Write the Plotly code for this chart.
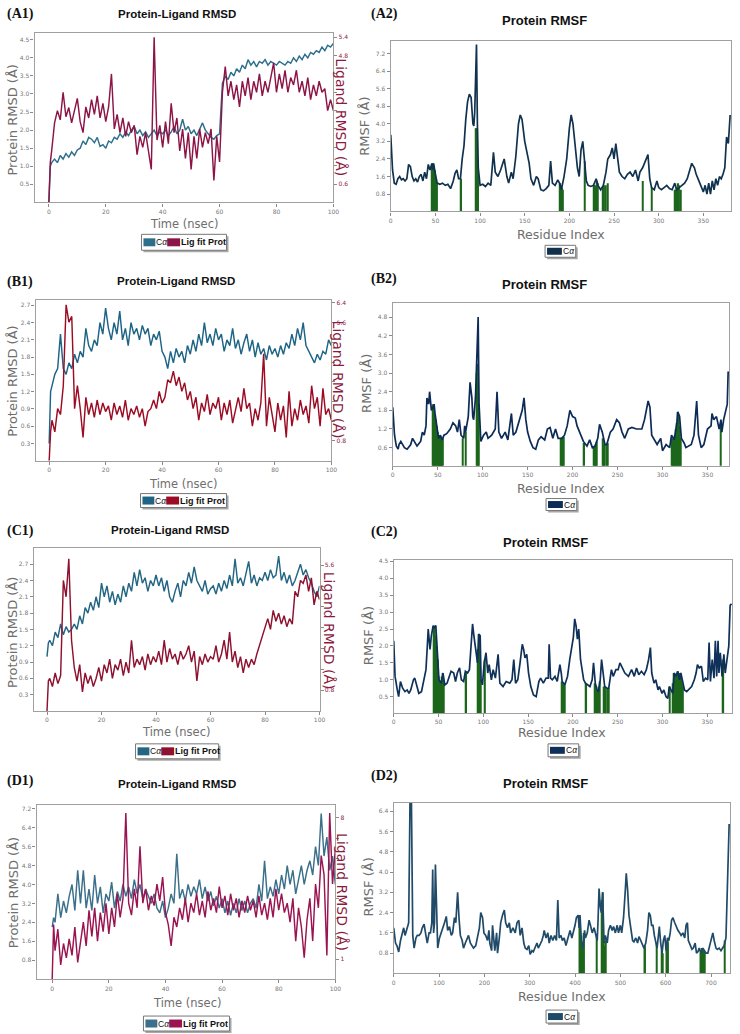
import plotly.graph_objects as go

W, H = 740, 1034
def X(px): return px / W
def Y(py): return 1 - py / H

# ---------------- data ----------------
TIME = [0, 0.5] + list(range(1, 101))   # ns sampling grid

A1_CA = [0.0, 1.0,
 1.1, 1.2, 1.1, 1.3, 1.2, 1.35, 1.25, 1.4, 1.3, 1.45,
 1.5, 1.7, 1.6, 1.8, 1.75, 1.65, 1.8, 1.55, 1.6, 1.5,
 1.7, 1.65, 1.8, 1.75, 1.9, 1.8, 1.95, 1.85, 2.0, 2.1,
 1.9, 2.0, 1.85, 1.95, 1.8, 1.9, 2.0, 1.85, 1.95, 1.9,
 2.0, 1.85, 1.95, 2.1, 1.9, 2.0, 2.3, 2.0, 2.1, 1.9,
 2.0, 1.85, 2.05, 2.2, 2.0, 1.9, 1.8, 1.75, 1.85, 1.9,
 3.3, 3.5, 3.4, 3.6, 3.5, 3.7, 3.6, 3.8, 3.7, 3.95,
 3.8, 3.9, 3.75, 3.9, 3.85, 3.95, 3.8, 3.9, 3.85, 3.8,
 3.9, 3.85, 3.8, 3.9, 3.85, 4.0, 3.9, 4.05, 3.95, 4.1,
 4.0, 4.15, 4.1, 4.2, 4.15, 4.3, 4.2, 4.35, 4.3, 4.4]
A1_LIG = [0.0, 1.3,
 1.7, 2.6, 3.0, 2.7, 3.6, 2.8, 3.1, 2.6, 3.0, 3.4,
 2.64, 2.28, 3.12, 2.76, 3.36, 2.88, 3.48, 2.76, 3.24, 2.64,
 3.12, 4.2, 2.4, 2.88, 2.28, 2.76, 2.16, 2.64, 2.28, 2.52,
 1.56, 2.16, 1.8, 2.28, 1.68, 1.08, 5.4, 2.04, 2.52, 1.8,
 2.64, 1.92, 3.24, 2.28, 2.76, 1.68, 2.4, 1.44, 2.28, 1.08,
 2.16, 1.44, 2.4, 1.8, 2.28, 1.92, 2.4, 0.72, 2.16, 1.32,
 3.6, 4.44, 3.48, 3.96, 3.36, 3.84, 3.12, 3.96, 3.48, 4.08,
 3.36, 3.96, 3.6, 4.2, 3.48, 3.96, 3.6, 4.08, 4.56, 3.6,
 4.2, 3.72, 4.32, 3.6, 4.08, 3.84, 4.32, 3.6, 3.96, 3.48,
 4.08, 3.36, 3.84, 3.48, 3.96, 3.6, 3.72, 3.0, 3.36, 3.0]

B1_CA = [0.3, 1.2,
 1.3, 1.5, 1.6, 2.2, 1.6, 1.5, 1.7, 1.6, 1.85, 1.7,
 1.9, 1.8, 2.3, 2.0, 1.9, 2.1, 2.0, 2.4, 2.2, 2.65,
 2.3, 2.1, 2.4, 2.2, 2.6, 2.1, 2.3, 2.0, 2.4, 2.2,
 2.3, 2.1, 2.35, 2.2, 2.3, 2.0, 2.2, 2.1, 2.25, 1.9,
 1.8, 1.6, 1.9, 1.7, 1.95, 1.8, 1.9, 1.7, 2.0, 1.85,
 2.1, 1.9, 2.2, 2.0, 2.4, 2.05, 2.2, 2.0, 2.3, 2.1,
 2.2, 1.9, 2.1, 2.0, 2.3, 1.95, 2.1, 1.85, 2.05, 2.2,
 1.9, 2.1, 1.8, 2.05, 1.85, 1.95, 1.75, 2.0, 1.85, 1.95,
 1.8, 2.0, 1.85, 2.05, 1.95, 2.2, 2.0, 2.3, 2.1, 2.4,
 2.0, 1.9, 1.8, 1.7, 1.85, 1.75, 1.9, 1.85, 2.1, 2.0]
B1_LIG = [0.0, 1.17,
 1.64, 1.17, 2.11, 1.87, 3.04, 6.32, 5.62, 5.85, 2.11, 3.04,
 2.11, 0.94, 2.57, 1.87, 2.34, 1.76, 2.46, 1.87, 2.34, 1.99,
 2.22, 1.64, 2.34, 1.87, 2.22, 1.76, 2.46, 1.64, 2.11, 1.87,
 2.22, 1.76, 2.11, 1.40, 1.99, 2.11, 2.46, 2.11, 2.81, 2.34,
 2.57, 3.28, 3.16, 3.63, 3.04, 3.39, 2.81, 3.16, 2.46, 2.81,
 2.11, 2.57, 1.64, 2.34, 1.99, 2.69, 1.87, 2.34, 2.11, 2.57,
 1.64, 2.34, 1.87, 2.46, 1.52, 2.11, 2.57, 1.99, 2.93, 2.11,
 2.34, 1.40, 2.11, 1.64, 2.34, 4.33, 1.40, 2.57, 1.87, 1.17,
 2.34, 1.64, 2.22, 0.94, 2.81, 1.40, 2.11, 1.64, 2.46, 1.87,
 2.22, 1.52, 3.04, 2.11, 2.57, 1.40, 2.93, 1.87, 2.11, 1.64]

C1_CA = [1.0, 1.25,
 1.3, 1.2, 1.45, 1.35, 1.6, 1.4, 1.55, 1.45, 1.5, 1.6,
 1.5, 1.75, 1.6, 1.9, 1.8, 2.0, 1.85, 2.1, 1.9, 2.35,
 2.1, 2.3, 2.0, 2.2, 1.95, 2.15, 2.0, 2.3, 2.1, 2.35,
 2.2, 2.55, 2.3, 2.6, 2.35, 2.45, 2.2, 2.4, 2.3, 2.5,
 2.3, 2.45, 2.2, 2.4, 2.1, 2.0, 2.2, 2.35, 2.1, 2.4,
 2.3, 2.55, 2.35, 2.65, 2.4, 2.3, 2.2, 2.4, 2.15, 2.25,
 2.3, 2.15, 2.35, 2.2, 2.4, 2.25, 2.5, 2.3, 2.8, 2.35,
 2.45, 2.3, 2.5, 2.75, 2.35, 2.5, 2.3, 2.45, 2.4, 2.55,
 2.4, 2.6, 2.45, 2.5, 2.85, 2.4, 2.55, 2.35, 2.5, 2.3,
 2.4, 2.55, 2.7, 2.5, 2.6, 2.45, 2.35, 2.2, 2.1, 2.3]
C1_LIG = [0.0, 1.15,
 1.25, 0.94, 1.46, 1.05, 1.36, 5.02, 4.39, 5.85, 2.72, 1.67,
 1.15, 1.78, 0.73, 1.46, 1.05, 1.36, 0.94, 1.25, 1.67, 1.15,
 1.78, 1.46, 1.99, 1.25, 1.78, 1.57, 1.99, 1.36, 1.88, 1.46,
 2.72, 1.67, 1.99, 1.78, 2.09, 1.57, 2.19, 1.78, 2.09, 1.88,
 2.30, 1.78, 2.72, 1.88, 2.40, 1.99, 2.19, 1.78, 2.30, 1.99,
 2.19, 2.51, 1.88, 2.30, 1.15, 2.09, 1.78, 2.19, 1.88, 2.09,
 1.99, 2.51, 1.88, 2.19, 2.72, 1.99, 3.03, 1.88, 2.30, 1.67,
 2.09, 1.46, 1.99, 1.67, 1.99, 1.78, 2.19, 2.51, 2.82, 3.14,
 3.55, 3.14, 3.87, 3.45, 3.76, 3.34, 3.66, 3.24, 3.55, 3.34,
 4.60, 4.39, 5.02, 4.91, 5.23, 4.60, 5.12, 4.08, 4.60, 4.28]

D1_CA = [2.2, 2.6,
 2.4, 3.6, 2.6, 3.3, 2.8, 3.5, 4.0, 2.9, 4.6, 3.2,
 4.6, 3.0, 3.8, 2.9, 4.4, 3.2, 3.9, 2.8, 3.6, 3.3,
 4.1, 3.0, 3.7, 3.3, 4.0, 3.5, 3.9, 3.4, 4.2, 3.6,
 4.0, 3.4, 3.8, 3.5, 3.2, 3.6, 3.0, 2.8, 3.3, 2.6,
 3.0, 3.6, 3.2, 5.3, 3.4, 3.8, 3.3, 4.0, 3.5, 3.9,
 3.6, 4.2, 3.4, 3.9, 3.3, 3.7, 3.1, 3.5, 3.0, 3.4,
 2.8, 3.3, 2.7, 3.2, 2.8, 3.4, 2.9, 3.3, 2.8, 3.2,
 3.4, 3.0, 4.0, 3.3, 5.0, 3.4, 3.9, 3.5, 4.2, 3.6,
 4.4, 3.8, 4.8, 4.0, 4.6, 3.6, 4.2, 4.8, 4.0, 4.6,
 5.0, 4.4, 5.6, 4.8, 7.0, 5.2, 6.0, 4.6, 5.2, 4.0]
D1_LIG = [0.0, 2.71,
 1.41, 2.48, 0.71, 1.77, 1.06, 2.0, 1.18, 2.59, 0.83, 1.89,
 2.83, 1.65, 3.42, 2.12, 3.54, 1.89, 3.30, 2.36, 3.77, 2.24,
 3.54, 2.59, 4.24, 3.07, 4.01, 8.25, 3.77, 3.18, 4.48, 3.54,
 6.60, 3.77, 4.48, 3.42, 4.13, 3.65, 4.72, 3.89, 5.07, 3.30,
 2.71, 1.65, 3.07, 2.59, 3.54, 2.95, 4.01, 2.83, 3.77, 3.30,
 4.24, 3.18, 3.89, 3.07, 4.36, 3.42, 4.01, 3.30, 4.60, 3.54,
 4.13, 3.18, 4.24, 3.42, 4.01, 3.07, 3.89, 3.30, 4.13, 3.42,
 3.89, 3.07, 4.13, 3.18, 3.77, 2.95, 4.01, 3.07, 4.48, 3.42,
 4.24, 3.30, 3.77, 2.83, 4.01, 1.89, 3.54, 2.59, 1.06, 2.95,
 4.01, 1.89, 4.72, 3.54, 6.13, 5.19, 1.18, 8.25, 4.72, 6.48]

# RMSF profiles: (residue index, RMSF in Å)
A2_RMSF = [(0,3.5),(2,1.9),(4,1.3),(6,1.25),(8,1.5),(10,1.6),(12,1.45),(14,1.5),(16,1.4),(18,1.5),
 (20,2.15),(22,2.05),(24,1.6),(26,1.4),(28,1.5),(30,1.35),(32,1.6),(34,1.7),(36,1.4),(38,1.8),
 (40,1.5),(42,2.15),(44,1.9),(46,2.2),(47,1.9),(48,2.2),(50,1.7),(52,1.3),(55,1.25),(58,1.3),
 (61,1.2),(64,1.25),(67,1.05),(70,1.4),(72,1.75),(74,1.9),(76,1.5),(78,1.5),(80,2.4),(82,3.0),
 (84,4.2),(86,5.0),(88,5.35),(90,5.2),(92,4.0),(93,3.9),(94,4.5),(95,6.4),(96,7.6),(97,4.0),
 (98,2.0),(100,1.2),(103,1.25),(106,1.15),(109,1.3),(112,1.2),(115,2.7),(117,1.8),(120,1.6),(123,1.9),
 (125,2.2),(127,2.4),(130,1.6),(132,1.3),(135,1.8),(137,1.5),(140,2.5),(143,4.0),(145,4.4),(147,4.2),
 (150,3.2),(153,2.6),(155,2.2),(157,1.5),(160,1.2),(163,1.6),(165,1.5),(168,1.0),(171,0.95),(174,1.05),
 (177,1.2),(179,2.3),(181,1.3),(184,1.2),(187,1.45),(189,1.3),(191,1.0),(194,1.6),(197,2.4),(200,3.8),
 (202,4.4),(204,4.0),(207,2.8),(209,2.0),(211,1.6),(213,2.8),(215,3.2),(217,2.4),(219,1.4),(221,1.2),
 (224,1.15),(227,1.2),(230,1.5),(232,1.2),(235,1.0),(238,1.2),(241,1.8),(243,2.4),(246,2.6),(248,2.9),
 (250,2.4),(252,3.1),(254,2.4),(256,1.8),(259,1.6),(262,1.5),(265,1.7),(268,1.8),(271,1.6),(274,1.9),
 (277,1.4),(279,1.8),(282,2.0),(285,2.3),(288,2.6),(290,1.5),(292,1.1),(295,1.0),(298,1.4),(300,1.1),
 (303,1.0),(306,1.1),(309,1.2),(312,1.05),(315,1.0),(318,1.3),(320,1.0),(323,1.1),(326,1.2),(329,1.3),
 (332,1.5),(335,1.9),(337,2.2),(340,2.0),(342,1.7),(345,1.4),(348,1.1),(350,0.9),(352,1.2),(354,0.8),
 (356,1.3),(358,0.8),(360,1.4),(362,1.0),(364,1.5),(366,1.2),(368,1.6),(370,1.5),(372,1.7),(374,2.0),
 (376,3.4),(378,3.1),(380,4.4)]
A2_CONTACTS = [(46,2.0),(47,2.2),(48,2.1),(49,1.9),(50,1.7),(51,1.5),(52,1.3),(79,1.5),(95,3.8),(96,3.8),
 (97,3.8),(98,2.0),(190,1.3),(191,1.2),(192,1.1),(193,1.0),(217,2.3),(228,1.2),(229,1.2),(231,1.4),
 (232,1.3),(238,1.1),(239,1.2),(241,1.2),(243,1.3),(282,1.4),(292,1.1),(318,1.0),(319,1.0),(320,1.1),
 (322,1.3),(323,1.2),(325,1.0)]

B2_RMSF = [(0,1.9),(2,1.0),(4,0.65),(6,0.55),(7,0.7),(9,0.8),(13,0.6),(16,0.55),(20,0.7),(22,0.9),
 (24,0.8),(27,0.65),(31,0.8),(33,1.1),(35,1.0),(37,1.3),(38,2.2),(40,2.0),(41,2.4),(42,2.1),
 (43,1.8),(45,1.9),(46,2.0),(47,1.7),(49,1.3),(51,0.9),(53,1.0),(55,0.85),(57,1.0),(60,1.05),
 (64,1.2),(67,1.4),(70,1.3),(72,1.1),(74,1.5),(76,1.0),(79,0.9),(80,1.3),(81,1.1),(84,1.6),
 (86,2.7),(88,2.2),(89,1.6),(90,1.5),(92,2.2),(93,3.0),(95,4.8),(96,2.0),(98,0.8),(101,1.0),
 (104,1.1),(106,0.9),(110,1.0),(114,1.2),(116,2.4),(118,1.1),(121,0.9),(125,1.1),(128,0.85),(132,1.7),
 (134,1.0),(137,1.1),(141,1.5),(144,1.8),(146,2.2),(148,1.5),(150,1.1),(153,0.8),(156,0.6),(159,0.55),
 (162,0.85),(165,0.95),(169,0.85),(172,1.2),(175,1.25),(178,0.9),(181,1.2),(184,0.9),(188,0.9),(191,1.0),
 (194,1.3),(197,1.8),(200,1.6),(203,1.55),(205,1.3),(209,1.0),(212,0.8),(216,0.65),(219,0.85),(222,0.6),
 (225,0.65),(228,0.9),(230,1.35),(233,1.1),(236,0.7),(238,0.7),(242,1.1),(245,1.2),(249,1.5),(252,1.4),
 (255,1.1),(258,0.9),(262,1.2),(266,1.25),(271,1.2),(277,1.2),(280,1.5),(284,2.1),(286,1.9),(288,1.0),
 (291,0.85),(294,0.7),(298,0.9),(300,0.5),(304,0.7),(308,0.6),(310,1.0),(313,0.85),(316,1.4),(317,1.75),
 (319,1.6),(321,0.9),(324,0.75),(326,0.6),(332,0.7),(335,1.0),(338,2.1),(340,1.0),(343,0.6),(346,0.7),
 (350,1.2),(354,1.3),(355,1.7),(357,1.5),(360,1.6),(363,1.2),(365,1.5),(366,1.1),(368,1.5),(370,1.8),
 (372,2.0),(373,3.05)]
B2_CONTACTS = [(45,2.0),(46,1.9),(47,1.7),(48,1.5),(49,1.3),(50,1.1),(51,0.95),(52,0.95),(53,1.0),(54,0.9),
 (55,0.85),(56,0.9),(78,0.9),(81,1.1),(94,3.0),(95,3.3),(96,2.0),(187,0.9),(188,0.9),(189,0.95),
 (190,0.95),(213,0.75),(224,0.6),(225,0.65),(226,0.7),(227,0.8),(234,0.9),(235,0.7),(236,0.7),(238,0.7),
 (239,0.75),(311,0.9),(312,0.85),(313,0.85),(314,1.0),(315,1.2),(316,1.4),(317,1.75),(318,1.6),(319,1.3),
 (320,0.9),(365,1.3)]

C2_RMSF = [(0,2.15),(1.5,1.1),(4,0.7),(5.5,0.5),(7.5,0.95),(10,0.75),(12.5,0.65),(15,0.7),(17,0.6),(19,0.7),
 (22,1.0),(23.5,1.05),(26,0.8),(28,0.6),(31,0.65),(33,0.9),(36,1.3),(37.5,2.0),(38.5,2.5),(40.5,1.9),
 (42,2.3),(44,2.6),(45,2.55),(47,2.6),(48.5,1.9),(50.5,1.0),(53,0.9),(55,1.2),(57,0.85),(59.5,0.9),
 (62,1.1),(64,1.25),(67,1.2),(69,0.95),(71,1.2),(73.5,1.35),(75.5,1.0),(78,0.95),(80,1.25),(82.5,1.2),
 (84.5,1.3),(86.5,2.2),(88,2.65),(89.5,2.3),(91.5,1.9),(93.5,1.5),(95,2.35),(96.5,2.3),(97.5,1.0),(99,0.85),
 (101,1.5),(103,1.8),(105,1.2),(106.5,1.45),(109,1.0),(111,1.3),(113.5,1.05),(116.5,1.75),(118.5,0.9),(122,0.8),
 (125.5,0.95),(129.5,0.9),(132,1.0),(134,1.6),(136,0.9),(138.5,1.0),(141,1.5),(143.5,2.05),(145,1.9),(146.5,1.65),
 (148.5,1.75),(150.5,1.2),(153,0.8),(156,0.55),(159,0.5),(162,0.95),(164,1.05),(167,0.9),(170,1.05),(172.5,1.05),
 (173.5,2.05),(175,1.05),(177,1.0),(180,1.1),(182.5,0.95),(185.5,1.45),(187,1.2),(188,0.95),(191,0.85),(194,1.1),
 (196.5,1.6),(198.5,2.0),(200.5,2.25),(202,2.8),(203.5,2.6),(205,2.2),(206.5,2.5),(208.5,1.6),(210.5,1.15),(212,1.0),
 (214,0.9),(216.5,0.85),(219,0.8),(221.5,1.0),(223,1.5),(225,0.9),(227,0.7),(228.5,0.65),(230.5,1.0),(232,1.6),
 (233.5,1.2),(235.5,0.8),(238,0.75),(240,0.75),(243,1.3),(245,1.1),(248,1.3),(250.5,1.3),(252.5,1.5),(255,1.35),
 (258,1.2),(262,1.1),(265.5,1.3),(268.5,1.1),(271,1.35),(273.5,1.15),(276.5,1.25),(279.5,1.15),(282,1.3),(284.5,1.6),
 (286.5,1.95),(288,1.2),(290.5,0.9),(292.5,1.0),(295,0.7),(296.5,0.8),(299.5,0.6),(301.5,0.7),(304,0.5),(306,0.45),
 (307.5,0.8),(309.5,0.7),(311.5,0.6),(313,1.2),(315,1.1),(317,1.25),(319,1.0),(320.5,1.2),(322.5,0.9),(324.5,0.7),
 (327,0.65),(330,0.75),(332.5,0.8),(335.5,1.0),(337.5,1.2),(339,1.45),(341,1.35),(343.5,1.4),(345.5,0.95),(348,1.05),
 (350.5,1.0),(352,2.1),(353.5,0.95),(355.5,1.6),(357.5,1.05),(359,2.15),(360.5,1.1),(362,2.15),(363,1.2),(364.5,1.8),
 (366.5,1.1),(368.5,1.75),(370,1.2),(372,1.6),(374,2.0),(375.5,3.2),(377,3.25)]
C2_CONTACTS = [(45,2.55),(46,2.6),(47,2.3),(48,2.0),(49,1.6),(50,1.1),(51,1.0),(52,0.95),(53,0.9),(54,1.1),
 (55,1.2),(56,1.0),(81,1.2),(94,1.9),(95,2.35),(96,2.3),(97,1.0),(102,1.6),(188,0.95),(189,0.9),
 (190,0.85),(191,0.85),(215,0.9),(225,0.9),(226,0.8),(227,0.7),(228,0.65),(229,0.8),(230,0.95),(235,0.8),
 (236,0.75),(237,0.75),(239,0.75),(240,0.75),(308,0.8),(312,0.9),(313,1.2),(314,1.15),(315,1.1),(316,1.2),
 (317,1.25),(318,1.1),(319,1.0),(320,1.2),(321,1.05),(322,0.9),(323,0.8),(368,1.6)]

D2_RMSF = [(0,1.8),(4,1.2),(7,1.1),(11,0.85),(15,1.3),(18,1.5),(22,1.8),(25,1.5),(29,1.8),(33,2.0),
 (36,6.9),(39,6.9),(42,1.5),(45,1.0),(49,1.4),(52,1.5),(56,1.5),(60,1.6),(63,1.8),(67,1.95),
 (71,1.5),(74,1.2),(78,1.6),(81,1.6),(84,2.0),(86,4.1),(88,1.6),(90,2.0),(92,4.3),(95,2.2),
 (97,1.0),(101,1.4),(105,1.6),(109,1.8),(112,2.0),(116,2.25),(119,1.7),(123,1.85),(127,1.5),(130,1.6),
 (134,2.2),(137,2.0),(141,3.2),(144,2.2),(147,1.5),(151,1.3),(154,1.0),(158,1.2),(161,1.35),(165,1.5),
 (169,1.2),(172,1.1),(176,1.0),(181,1.1),(185,1.5),(189,1.8),(192,2.4),(196,2.2),(199,1.6),(203,1.5),
 (207,1.3),(210,1.7),(212,1.2),(216,0.9),(218,1.9),(221,1.2),(223,0.9),(227,1.6),(229,0.8),(233,1.4),
 (236,2.0),(240,2.3),(244,2.5),(247,2.0),(251,1.8),(255,2.0),(258,1.6),(263,1.8),(268,1.6),(272,2.0),
 (276,2.1),(279,1.5),(283,1.8),(287,1.2),(290,1.0),(294,0.95),(298,1.1),(301,0.75),(305,0.9),(308,0.85),
 (312,1.0),(316,1.2),(319,1.0),(323,1.15),(327,1.3),(330,1.5),(332,1.7),(336,1.4),(340,1.6),(343,1.2),
 (347,1.5),(351,1.3),(355,1.5),(359,1.3),(362,2.9),(365,1.4),(369,1.5),(372,1.3),(376,1.4),(380,1.1),
 (384,1.4),(389,1.7),(393,1.4),(396,1.6),(400,1.9),(403,2.2),(407,2.3),(409,1.8),(411,2.3),(414,1.3),
 (418,1.0),(421,1.7),(423,1.4),(427,1.6),(431,2.1),(434,1.9),(438,1.6),(442,1.8),(445,1.6),(449,1.3),
 (451,2.2),(453,3.35),(456,2.6),(458,2.4),(461,3.2),(464,1.2),(467,1.5),(471,1.2),(474,1.7),(478,1.9),
 (482,1.7),(485,1.85),(489,1.6),(493,1.9),(496,1.6),(500,1.9),(503,1.6),(507,2.2),(511,3.3),(513,3.95),
 (516,3.3),(519,2.3),(523,1.8),(527,1.3),(530,1.25),(534,1.4),(538,1.2),(541,1.45),(545,1.3),(549,1.1),
 (552,1.0),(556,1.2),(560,1.7),(563,2.4),(566,2.3),(569,1.9),(572,1.9),(575,1.5),(578,1.3),(581,1.0),
 (584,1.5),(586,1.85),(589,1.2),(592,0.8),(595,1.3),(598,1.5),(601,0.9),(604,1.4),(607,1.3),(610,1.6),
 (613,2.1),(616,2.2),(620,2.0),(624,1.8),(627,1.7),(631,1.6),(634,1.5),(638,1.6),(642,1.4),(645,1.9),
 (648,2.0),(650,1.3),(654,1.1),(658,0.95),(661,1.0),(665,1.2),(668,0.8),(671,0.85),(674,1.0),(678,0.8),
 (682,1.0),(685,0.9),(689,0.8),(693,0.8),(696,1.0),(700,1.3),(704,1.6),(707,1.3),(711,1.0),(714,0.95),
 (718,1.0),(722,0.9),(725,1.0),(729,1.1),(733,1.4),(736,3.0),(740,5.9)]
D2_CONTACTS = [(410,1.8),(411,2.0),(412,1.5),(413,1.3),(414,1.2),(415,1.1),(416,1.0),(417,1.0),(418,1.2),(419,1.5),
 (420,1.6),(447,1.5),(460,2.9),(461,3.2),(463,1.4),(466,1.1),(468,1.3),(554,1.0),(555,1.1),(581,1.2),
 (591,0.9),(593,0.8),(602,1.0),(603,1.1),(604,1.2),(605,1.3),(677,0.9),(678,0.8),(679,0.9),(680,1.0),
 (681,0.95),(682,0.9),(683,0.85),(685,0.9),(687,0.85),(731,1.3)]

# tick labels
TIME_TICKS = [0, 20, 40, 60, 80, 100]
RES_TICKS = [0, 50, 100, 150, 200, 250, 300, 350]
RES_TICKS_D = [0, 100, 200, 300, 400, 500, 600, 700]
A1_LT = ["0.5", "1.0", "1.5", "2.0", "2.5", "3.0", "3.5", "4.0", "4.5"]
A1_RT = ["0.6", "1.2", "1.8", "2.4", "3.0", "3.6", "4.2", "4.8", "5.4"]
A1_RSHOW = ["0.6", "4.8", "5.4"]
B1_LT = ["0.3", "0.6", "0.9", "1.2", "1.5", "1.8", "2.1", "2.4", "2.7"]
B1_RT = ["0.8", "1.6", "2.4", "3.2", "4.0", "4.8", "5.6", "6.4"]
B1_RSHOW = ["0.8", "5.6", "6.4"]
C1_LT = ["0.3", "0.6", "0.9", "1.2", "1.5", "1.8", "2.1", "2.4", "2.7"]
C1_RT = ["0.8", "1.6", "2.4", "3.2", "4.0", "4.8", "5.6"]
C1_RSHOW = ["0.8", "5.6"]
D1_LT = ["0.8", "1.6", "2.4", "3.2", "4.0", "4.8", "5.6", "6.4", "7.2"]
D1_RT = ["1", "2", "3", "4", "5", "6", "7", "8"]
D1_RSHOW = ["1", "8"]
A2_T = ["0.8", "1.6", "2.4", "3.2", "4.0", "4.8", "5.6", "6.4", "7.2"]
B2_T = ["0.6", "1.2", "1.8", "2.4", "3.0", "3.6", "4.2", "4.8"]
C2_T = ["0.5", "1.0", "1.5", "2.0", "2.5", "3.0", "3.5", "4.0", "4.5"]
D2_T = ["0.8", "1.6", "2.4", "3.2", "4.0", "4.8", "5.6", "6.4"]

for s in (A1_CA, A1_LIG, B1_CA, B1_LIG, C1_CA, C1_LIG, D1_CA, D1_LIG):
    assert len(s) == len(TIME), len(s)

# ---------------- styling ----------------
GREEN = "#1c661c"
LIGC = "#8b1a3e"
GRAYT = "#6e6e6e"
TICKF = dict(family="DejaVu Sans", size=6, color="#777777")
AX = dict(showgrid=False, zeroline=False, showline=True, mirror=True,
          linecolor="#a0a0a0", linewidth=1.3, ticks="outside", ticklen=3,
          tickwidth=1, tickcolor="#8a8a8a", tickfont=TICKF)

fig = go.Figure()
layout = {}
annotations = []
shapes = []

def ax_name(kind, n):
    return f"{kind}axis" if n == 1 else f"{kind}axis{n}"

def ref(kind, n):
    return kind if n == 1 else f"{kind}{n}"

def ann(text, px, py, size, color="#111", family="DejaVu Sans", angle=0, xanchor="center"):
    annotations.append(dict(text=text, x=X(px), y=Y(py), xref="paper", yref="paper",
                            showarrow=False, textangle=angle, xanchor=xanchor, yanchor="middle",
                            borderpad=0, font=dict(size=size, color=color, family=family)))

def rect(x0, y0, x1, y1, fill, line=None, lw=0):
    shapes.append(dict(type="rect", xref="paper", yref="paper", x0=X(x0), x1=X(x1),
                       y0=Y(y1), y1=Y(y0), fillcolor=fill,
                       line=dict(color=line or fill, width=lw), layer="below"))

def legend_box(x0, y0, x1, y1):
    rect(x0 + 2, y0 + 2, x1 + 2, y1 + 2, "#a8a8a8")
    rect(x0, y0, x1, y1, "white", "#777777", 1)

def rmsd_legend(x0, y0, x1, y1, teal, crim):
    legend_box(x0, y0, x1, y1)
    ym = (y0 + y1) / 2
    rect(x0 + 2, ym - 4, x0 + 14, ym + 4, teal)
    ann("C<i>α</i>", x0 + 14, ym, 8.5, family="Liberation Sans", xanchor="left")
    rect(x0 + 26, ym - 4, x0 + 39, ym + 4, crim)
    ann("<b>Lig fit Prot</b>", x0 + 38.5, ym, 9, family="Liberation Sans", xanchor="left")

def rmsf_legend(x0, y0, x1, y1, navy):
    legend_box(x0, y0, x1, y1)
    ym = (y0 + y1) / 2
    rect(x0 + 2, ym - 3.5, x0 + 17, ym + 3.5, navy)
    ann("C<i>α</i>", x0 + 17, ym, 8.5, family="Liberation Sans", xanchor="left")

def rmsd_panel(n, sec, box, xr, yl, yr, ca, lig, lt, rt, rshow, teal, crim):
    x0, y0, x1, y1 = box
    fig.add_trace(go.Scatter(x=TIME, y=ca, mode="lines", line=dict(color=teal, width=1.45),
                             xaxis=ref("x", n), yaxis=ref("y", n), hoverinfo="skip"))
    fig.add_trace(go.Scatter(x=TIME, y=lig, mode="lines", line=dict(color=crim, width=1.45),
                             xaxis=ref("x", n), yaxis=ref("y", sec), hoverinfo="skip"))
    layout[ax_name("x", n)] = dict(AX, domain=[X(x0), X(x1)], range=xr, anchor=ref("y", n),
                                   tickvals=TIME_TICKS, ticktext=[str(v) for v in TIME_TICKS])
    layout[ax_name("y", n)] = dict(AX, domain=[Y(y1), Y(y0)], range=yl, anchor=ref("x", n),
                                   tickvals=[float(v) for v in lt], ticktext=lt)
    layout[ax_name("y", sec)] = dict(AX, overlaying=ref("y", n), side="right", anchor=ref("x", n),
                                     range=yr, showline=False, mirror=False,
                                     tickvals=[float(v) for v in rt],
                                     ticktext=[v if v in rshow else "" for v in rt],
                                     tickfont=dict(family="DejaVu Sans", size=6, color=LIGC))

def rmsf_panel(n, box, xr, yr, prof, contacts, ticks, xticks, navy, bw):
    x0, y0, x1, y1 = box
    fig.add_trace(go.Bar(x=[c[0] for c in contacts], y=[c[1] for c in contacts], width=bw,
                         marker=dict(color=GREEN, line=dict(width=0)),
                         xaxis=ref("x", n), yaxis=ref("y", n), hoverinfo="skip"))
    fig.add_trace(go.Scatter(x=[p[0] for p in prof], y=[p[1] for p in prof], mode="lines",
                             line=dict(color=navy, width=1.7),
                             xaxis=ref("x", n), yaxis=ref("y", n), hoverinfo="skip"))
    layout[ax_name("x", n)] = dict(AX, domain=[X(x0), X(x1)], range=xr, anchor=ref("y", n),
                                   tickvals=xticks, ticktext=[str(v) for v in xticks])
    layout[ax_name("y", n)] = dict(AX, domain=[Y(y1), Y(y0)], range=yr, anchor=ref("x", n),
                                   tickvals=[float(v) for v in ticks], ticktext=ticks)

# ---------------- panels ----------------
rmsd_panel(1, 9, (33, 30, 335, 200), [-5, 100], [0, 4.69], [0, 5.54], A1_CA, A1_LIG,
           A1_LT, A1_RT, A1_RSHOW, "#2d6e8c", "#8d1446")
rmsf_panel(2, (393, 38, 737, 209), [0, 381], [0.015, 7.77], A2_RMSF, A2_CONTACTS, A2_T,
           RES_TICKS, "#10324f", 1.6)
rmsd_panel(3, 10, (34, 298, 333, 459), [-4.8, 100], [0, 2.79], [0, 6.51], B1_CA, B1_LIG,
           B1_LT, B1_RT, B1_RSHOW, "#1d6486", "#9b0c24")
rmsf_panel(4, (395, 301, 735, 464), [0, 374], [0.02, 5.25], B2_RMSF, B2_CONTACTS, B2_T,
           RES_TICKS, "#0c2b56", 1.6)
rmsd_panel(5, 11, (32, 547, 321, 710), [-4.9, 100], [0, 2.99], [0, 6.25], C1_CA, C1_LIG,
           C1_LT, C1_RT, C1_RSHOW, "#236683", "#8e1230")
rmsf_panel(6, (396, 559, 738, 712), [0, 377.6], [0.02, 4.53], C2_RMSF, C2_CONTACTS, C2_T,
           RES_TICKS, "#0f3159", 1.6)
rmsd_panel(7, 12, (35, 804, 337, 979), [-5.5, 100], [0, 7.37], [0, 8.66], D1_CA, D1_LIG,
           D1_LT, D1_RT, D1_RSHOW, "#3b6f8b", "#9a1452")
rmsf_panel(8, (396, 802, 736, 973), [0, 742], [0.01, 6.74], D2_RMSF, D2_CONTACTS, D2_T,
           RES_TICKS_D, "#1f4a68", 2.6)

# ---------------- texts ----------------
SERIF = "Liberation Serif"
SANS = "Liberation Sans"
for lab, px, py in [("(A1)", 4, 11), ("(A2)", 372, 11), ("(B1)", 4, 280), ("(B2)", 372, 277),
                    ("(C1)", 4, 530), ("(C2)", 372, 531), ("(D1)", 4, 780), ("(D2)", 372, 775)]:
    ann(f"<b>{lab}</b>", px, py, 14, family=SERIF, xanchor="left")

for px, py in [(177, 11), (176, 279), (170, 529), (177, 783)]:
    ann("<b>Protein-Ligand RMSD</b>", px, py, 11.5, family=SANS)
for px, py in [(548, 18), (548, 282), (549, 541), (549, 783)]:
    ann("<b>Protein RMSF</b>", px, py, 13, family=SANS)

for px, py in [(184, 222), (183, 482), (176, 731), (187, 1003)]:
    ann("Time (nsec)", px, py, 11.5, color=GRAYT)
for px, py in [(565, 232), (565, 487), (566, 732), (566, 996)]:
    ann("Residue Index", px, py, 12.5, color=GRAYT)

for px, py in [(11, 117), (11, 379), (10, 631), (12, 892)]:
    ann("Protein RMSD (Å)", px, py, 13, color=GRAYT, angle=-90)
for px, py in [(343, 115), (340, 378), (330, 630), (343, 892)]:
    ann("Ligand RMSD (Å)", px, py, 14, color=LIGC, angle=90)
for px, py in [(367, 124), (369, 382), (370, 635), (370, 887)]:
    ann("RMSF (Å)", px, py, 13, color=GRAYT, angle=-90)

# ---------------- legends ----------------
rmsd_legend(141, 232, 227, 248, "#2d6e8c", "#8d1446")
rmsd_legend(140, 492, 227, 506, "#1d6486", "#9b0c24")
rmsd_legend(135, 743, 219, 758, "#236683", "#8e1230")
rmsd_legend(143, 1016, 230, 1031, "#3b6f8b", "#9a1452")
rmsf_legend(549, 243, 580, 255, "#10324f")
rmsf_legend(550, 497, 581, 509, "#0c2b56")
rmsf_legend(552, 743, 583, 756, "#0f3159")
rmsf_legend(550, 1010, 582, 1023, "#1f4a68")

fig.update_layout(width=W, height=H, margin=dict(l=0, r=0, t=0, b=0),
                  paper_bgcolor="white", plot_bgcolor="white", showlegend=False,
                  barmode="overlay", annotations=annotations, shapes=shapes, **layout)
fig.write_html("out.html", config={"displayModeBar": False},
               post_script="document.body.style.margin='0';document.body.style.overflow='hidden';")
